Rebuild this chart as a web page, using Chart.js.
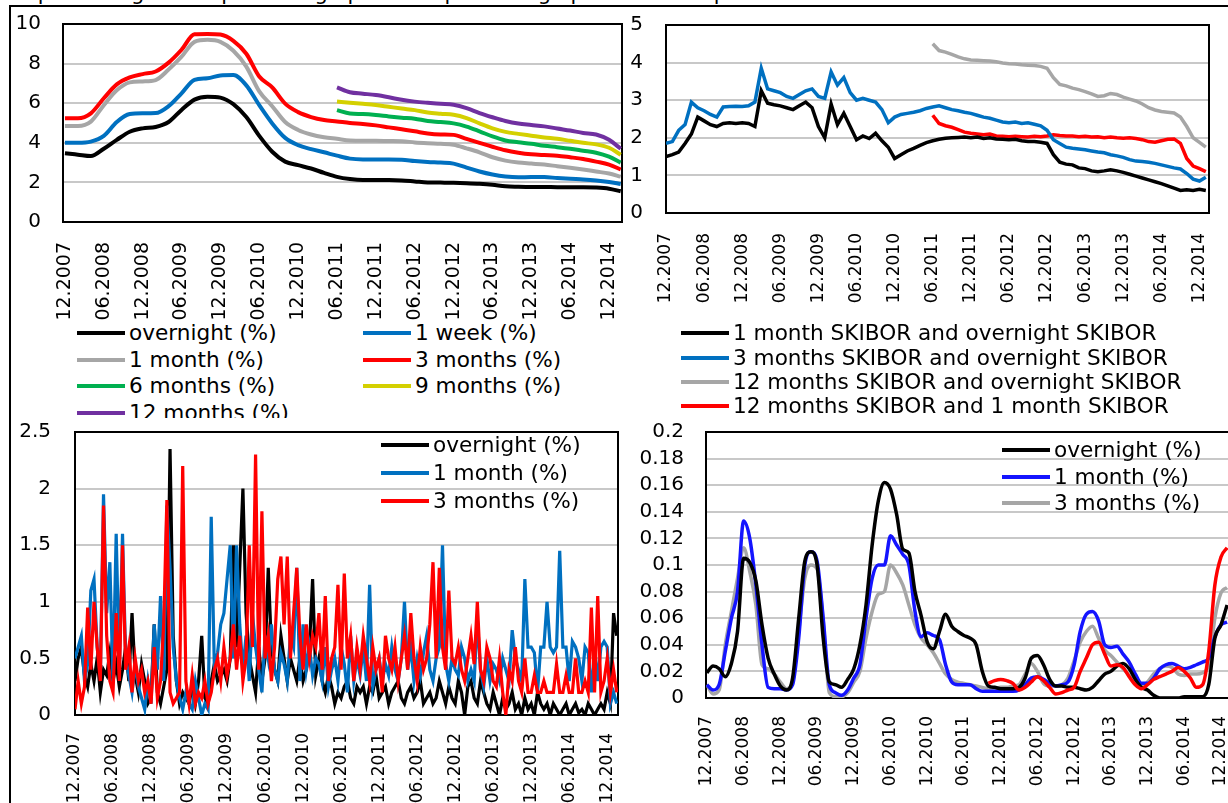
<!DOCTYPE html>
<html>
<head>
<meta charset="utf-8">
<script src="https://cdn.jsdelivr.net/npm/chart.js@4.4.1/dist/chart.umd.min.js"></script>
<style>
  body { margin: 0; width: 1228px; height: 803px; overflow: hidden; position: relative; background: #fff;
         font-family: "DejaVu Sans", Verdana, sans-serif; color: #000; }
  canvas { position: absolute; }
  .line { position: absolute; background: #000; z-index: 5; }
  .head { position: absolute; left: 12px; top: -17px; font-size: 21px; line-height: 21px; white-space: nowrap; }
  .legend { position: absolute; overflow: hidden; z-index: 3; }
  .item { position: absolute; font-size: 21.6px; line-height: 26px; white-space: nowrap; }
  .swatch { display: inline-block; width: 48px; height: 4px; vertical-align: middle; margin-right: 4px; position: relative; top: -1px; }
</style>
</head>
<body>
<div class="head">in percentages and percentage points in percentage points and in points</div>
<div class="line" style="left:9px;top:5px;width:1219px;height:2px"></div>
<div class="line" style="left:9px;top:5px;width:2px;height:798px"></div>

<canvas id="tl" width="620" height="312" style="left:10px;top:8px"></canvas>
<canvas id="tr" width="598" height="312" style="left:630px;top:8px"></canvas>
<canvas id="bl" width="609" height="383" style="left:11px;top:420px"></canvas>
<canvas id="br" width="620" height="383" style="left:622px;top:420px"></canvas>

<div class="legend" id="tlLeg" style="left:11px;top:320px;width:610px;height:98px"></div>
<div class="legend" id="trLeg" style="left:631px;top:318px;width:597px;height:102px"></div>
<div class="legend" id="blLeg" style="left:370px;top:428px;width:240px;height:90px"></div>
<div class="legend" id="brLeg" style="left:990px;top:433px;width:238px;height:90px"></div>

<script>
// gemeinsame Achsenbeschriftung (Monate ab 12.2007)
const tickMonths = [0, 6, 12, 18, 24, 30, 36, 42, 48, 54, 60, 66, 72, 78, 84];
const tickLabels = ["12.2007", "06.2008", "12.2008", "06.2009", "12.2009", "06.2010", "12.2010", "06.2011",
  "12.2011", "06.2012", "12.2012", "06.2013", "12.2013", "06.2014", "12.2014"];

const tlMonths = [0, 2, 4, 6, 8, 10, 12, 14, 16, 18, 20, 22, 24, 26, 28, 30, 32, 34, 36, 38, 40, 42,
  44, 46, 48, 50, 52, 54, 56, 58, 60, 62, 64, 66, 68, 70, 72, 74, 76, 78, 80, 82, 84, 85.8];
const tlLateMonths = [42, 44, 46, 48, 50, 52, 54, 56, 58, 60, 62, 64, 66, 68, 70, 72, 74, 76, 78, 80, 82, 84, 85.8];
const tlOvernight = [3.47, 3.4, 3.33, 3.7, 4.15, 4.56, 4.73, 4.8, 5.05, 5.66, 6.18, 6.33, 6.28, 5.95, 5.3, 4.35,
  3.55, 3.05, 2.87, 2.7, 2.48, 2.28, 2.17, 2.12, 2.12, 2.12, 2.1, 2.05, 2.0, 1.99, 1.98, 1.96, 1.93, 1.88,
  1.8, 1.78, 1.77, 1.77, 1.76, 1.76, 1.76, 1.74, 1.68, 1.55];
const tl1Week = [4.0, 4.0, 4.06, 4.35, 5.05, 5.45, 5.49, 5.5, 5.85, 6.5, 7.18, 7.26, 7.4, 7.42, 6.9, 5.9,
  4.98, 4.25, 3.88, 3.68, 3.52, 3.35, 3.2, 3.16, 3.16, 3.16, 3.15, 3.08, 3.03, 3.0, 2.95, 2.75, 2.55, 2.4,
  2.3, 2.26, 2.27, 2.27, 2.22, 2.18, 2.15, 2.1, 2.02, 1.92];
const tl1Month = [4.85, 4.85, 5.07, 5.9, 6.65, 7.05, 7.1, 7.17, 7.7, 8.35, 9.1, 9.2, 9.1, 8.65, 7.85, 6.6,
  5.85, 5.05, 4.65, 4.42, 4.28, 4.2, 4.12, 4.1, 4.1, 4.09, 4.08, 4.02, 3.98, 3.95, 3.9, 3.72, 3.52, 3.27,
  3.1, 3.0, 2.95, 2.9, 2.82, 2.74, 2.65, 2.55, 2.45, 2.29];
const tl3Months = [5.24, 5.24, 5.49, 6.25, 6.95, 7.3, 7.47, 7.6, 8.05, 8.7, 9.48, 9.5, 9.47, 9.15, 8.5, 7.35,
  6.8, 5.98, 5.55, 5.3, 5.15, 5.08, 5.0, 4.95, 4.88, 4.78, 4.68, 4.58, 4.47, 4.42, 4.4, 4.2, 4.0, 3.8,
  3.62, 3.5, 3.42, 3.38, 3.35, 3.27, 3.18, 3.05, 2.9, 2.65];
const tl6Months = [5.65, 5.48, 5.45, 5.4, 5.33, 5.27, 5.22, 5.1, 5.05, 4.98, 4.82, 4.58, 4.32, 4.12, 4.03,
  3.95, 3.85, 3.78, 3.7, 3.6, 3.5, 3.3, 3.0];
const tl9Months = [6.08, 6.02, 5.97, 5.91, 5.82, 5.73, 5.65, 5.53, 5.47, 5.42, 5.25, 4.98, 4.73, 4.55, 4.45,
  4.36, 4.27, 4.2, 4.1, 4.0, 3.92, 3.75, 3.4];
const tl12Months = [6.8, 6.55, 6.48, 6.41, 6.3, 6.17, 6.08, 6.02, 5.97, 5.92, 5.75, 5.5, 5.29, 5.1, 4.97,
  4.9, 4.83, 4.72, 4.62, 4.5, 4.42, 4.15, 3.7];

// oben rechts: Spreads (monatlich, ab 12.2007)
const trLateStart = 42;
const tr1mOn = [1.5, 1.55, 1.62, 1.85, 2.1, 2.55, 2.45, 2.35, 2.3, 2.38,
  2.4, 2.38, 2.4, 2.38, 2.3, 3.25, 2.92, 2.88, 2.85, 2.8,
  2.75, 2.85, 2.95, 2.8, 2.3, 2.0, 2.9, 2.35, 2.65, 2.3,
  1.95, 2.05, 1.98, 2.12, 1.92, 1.75, 1.45, 1.55, 1.65, 1.72,
  1.8, 1.87, 1.92, 1.96, 1.99, 2.0, 2.01, 2.02, 2.0, 2.02,
  1.98, 2.0, 1.97, 1.96, 1.95, 1.96, 1.92, 1.9, 1.9, 1.88,
  1.85, 1.55, 1.35, 1.3, 1.28, 1.2, 1.18, 1.12, 1.1, 1.12,
  1.15, 1.12, 1.08, 1.03, 0.98, 0.93, 0.88, 0.83, 0.78, 0.72,
  0.66, 0.6, 0.62, 0.6, 0.63, 0.6];
const tr3mOn = [1.85, 1.9, 2.2, 2.35, 2.95, 2.8, 2.72, 2.62, 2.55, 2.82,
  2.83, 2.84, 2.83, 2.85, 2.95, 3.85, 3.3, 3.25, 3.2, 3.1,
  3.05, 3.15, 3.25, 3.3, 3.1, 3.05, 3.75, 3.4, 3.6, 3.2,
  3.0, 3.05, 3.0, 2.95, 2.75, 2.4, 2.55, 2.62, 2.65, 2.68,
  2.72, 2.78, 2.82, 2.85, 2.8, 2.75, 2.72, 2.68, 2.65, 2.6,
  2.55, 2.52, 2.47, 2.42, 2.4, 2.42, 2.38, 2.4, 2.36, 2.32,
  2.2, 1.95, 1.85, 1.75, 1.72, 1.7, 1.68, 1.65, 1.62, 1.6,
  1.55, 1.52, 1.48, 1.42, 1.38, 1.37, 1.35, 1.32, 1.28, 1.24,
  1.2, 1.17, 1.05, 0.9, 0.85, 0.95];
const tr12mOn = [4.5, 4.32, 4.28, 4.22, 4.15, 4.1, 4.07, 4.06, 4.05, 4.04,
  4.02, 3.99, 3.97, 3.96, 3.94, 3.93, 3.92, 3.9, 3.85, 3.6,
  3.42, 3.38, 3.32, 3.28, 3.23, 3.17, 3.1, 3.12, 3.18, 3.15,
  3.08, 3.03, 2.98, 2.9, 2.8, 2.74, 2.7, 2.68, 2.66, 2.55,
  2.3, 2.0, 1.88, 1.75];
const tr12m1m = [2.6, 2.38, 2.32, 2.28, 2.22, 2.15, 2.12, 2.1, 2.08, 2.1,
  2.05, 2.04, 2.03, 2.04, 2.03, 2.02, 2.04, 2.03, 2.05, 2.08,
  2.06, 2.05, 2.05, 2.03, 2.04, 2.02, 2.03, 2.0, 2.02, 2.0,
  1.99, 2.0, 1.98, 1.95, 1.9, 1.88, 1.92, 1.96, 1.97, 1.85,
  1.45, 1.25, 1.18, 1.1];

const blOvernight = [0.3, 0.5, 0.6, 0.35, 0.25, 0.45, 0.3, 0.5, 0.2, 0.4, 0.35,
  0.55, 0.3, 0.45, 0.25, 0.4, 0.6, 0.3, 0.9, 0.35, 0.2,
  0.45, 0.3, 0.1, 0.15, 0.8, 0.2, 0.1, 0.25, 0.4, 2.35,
  0.7, 0.3, 0.1, 0.2, 0.15, 0.1, 0.25, 0.1, 0.3, 0.7,
  0.15, 0.1, 0.3, 0.45, 0.3, 0.35, 0.4, 0.3, 0.5, 1.5,
  0.6, 1.3, 2.0, 0.9, 0.5, 0.35, 0.2, 0.6, 0.3, 0.5,
  1.3, 0.6, 0.4, 0.3, 0.7, 0.5, 0.3, 0.5, 0.4, 0.3,
  0.5, 0.3, 0.4, 0.6, 1.2, 0.35, 0.5, 0.3, 0.2, 0.35,
  0.25, 0.1, 0.2, 0.15, 0.25, 0.3, 0.15, 0.1, 0.25, 0.2,
  0.25, 0.1, 0.25, 0.2, 0.35, 0.15, 0.2, 0.25, 0.1, 0.2,
  0.25, 0.3, 0.15, 0.1, 0.2, 0.25, 0.15, 0.2, 0.3, 0.1,
  0.15, 0.2, 0.1, 0.15, 0.3, 0.2, 0.1, 0.25, 0.15, 0.1,
  0.3, 0.2, 0.0, 0.25, 0.3, 0.15, 0.1, 0.3, 0.2, 0.1,
  0.05, 0.2, 0.1, 0.0, 0.15, 0.05, 0.1, 0.2, 0.05, 0.1,
  0.0, 0.15, 0.05, 0.1, 0.0, 0.2, 0.1, 0.05, 0.1, 0.0,
  0.1, 0.05, 0.0, 0.05, 0.1, 0.0, 0.05, 0.1, 0.02, 0.05,
  0.0, 0.1, 0.05, 0.0, 0.05, 0.1, 0.05, 0.2, 0.1, 0.9, 0.7];
const bl1Month = [0.5, 0.6, 0.7, 0.3, 0.45, 1.1, 1.2, 0.6, 0.35, 1.95, 0.9,
  1.35, 0.3, 1.6, 0.4, 1.6, 0.5, 0.35, 0.2, 0.45, 0.25,
  0.15, 0.05, 0.3, 0.1, 0.8, 0.4, 1.05, 0.3, 1.85, 1.3,
  0.6, 0.3, 0.15, 0.05, 0.2, 0.1, 0.05, 0.3, 0.15, 0.0,
  0.1, 0.05, 1.75, 0.4, 0.55, 0.8, 0.9, 1.2, 1.5, 0.5,
  1.5, 0.8, 0.4, 0.7, 0.3, 0.9, 0.6, 0.4, 0.2, 0.7,
  0.5, 0.8, 0.4, 0.3, 0.55, 0.45, 0.3, 0.7, 0.6, 1.3,
  0.3, 0.8, 0.4, 0.6, 0.35, 0.5, 0.45, 0.3, 0.6, 0.25,
  0.4, 0.5, 0.3, 0.6, 0.45, 0.2, 0.7, 0.3, 0.5, 0.35,
  0.6, 0.3, 1.15, 0.25, 0.4, 0.5, 0.3, 0.45, 0.35, 0.6,
  0.4, 0.3, 0.5, 1.0, 0.4, 0.6, 0.3, 0.5, 0.35, 0.55,
  0.7, 0.4, 0.3, 0.5, 0.6, 1.5, 0.45, 0.3, 0.5, 0.4,
  0.35, 0.6, 0.5, 0.3, 0.4, 0.3, 0.85, 0.4, 0.25, 0.5,
  0.3, 0.45, 0.4, 0.3, 0.5, 0.4, 0.3, 0.75, 0.5, 0.4,
  0.3, 1.2, 0.6, 0.6, 0.55, 0.2, 0.6, 0.6, 1.0, 0.6,
  0.55, 0.6, 1.45, 0.6, 0.6, 0.3, 0.65, 0.6, 0.5, 0.3,
  0.6, 0.55, 0.2, 0.6, 0.3, 0.6, 0.65, 0.6, 0.1, 0.2, 0.1];
const bl3Months = [0.05, 0.3, 0.1, 0.25, 0.95, 0.4, 1.0, 0.6, 0.3, 1.85, 0.7,
  0.3, 0.2, 0.9, 0.3, 1.5, 0.4, 0.6, 0.2, 0.5, 0.3,
  0.4, 0.2, 0.3, 0.1, 0.6, 0.15, 0.3, 0.8, 1.9, 0.2,
  0.1, 0.15, 0.2, 2.2, 0.3, 0.1, 0.35, 0.1, 0.2, 0.15,
  0.3, 0.1, 0.2, 0.4, 0.5, 0.3, 0.6, 0.35, 0.5, 0.8,
  0.4, 0.7, 0.3, 0.5, 1.5, 0.6, 2.3, 0.4, 1.8, 0.5,
  0.7, 0.3, 0.6, 1.2, 1.4, 0.8, 1.4, 0.5, 0.9, 1.3,
  0.7, 0.4, 0.8, 0.5, 0.7, 0.6, 0.9, 0.4, 1.05, 0.3,
  0.5, 0.6, 1.15, 0.4, 1.25, 0.5, 0.7, 0.3, 0.6, 0.4,
  0.7, 0.5, 0.3, 0.6, 0.4, 0.5, 0.2, 0.7, 0.5, 0.4,
  0.6, 0.3, 0.5, 0.7, 0.4, 0.9, 0.5, 0.3, 0.6, 0.4,
  0.5, 0.8, 1.35, 0.5, 1.3, 0.6, 0.4, 1.1, 0.5, 0.45,
  0.6, 0.4, 0.3, 0.5, 0.7, 0.45, 1.0, 0.4, 0.3, 0.6,
  0.5, 0.3, 0.25, 0.5, 0.2, 0.0, 0.4, 0.3, 0.6, 0.3,
  0.2, 0.5, 0.2, 0.2, 0.35, 0.2, 0.2, 0.3, 0.2, 0.2,
  0.2, 0.45, 0.2, 0.2, 0.35, 0.2, 0.2, 0.5, 0.2, 0.2,
  0.3, 0.2, 0.95, 0.2, 1.05, 0.2, 0.3, 0.5, 0.2, 0.4, 0.2];

// unten rechts: monatlich, rote Reihe ab 10.2011
const brRedStart = 46;
const brOvernight = [0.019, 0.024, 0.022, 0.016, 0.026, 0.05, 0.105, 0.102, 0.088, 0.055,
  0.03, 0.018, 0.009, 0.006, 0.015, 0.06, 0.103, 0.11, 0.1, 0.045,
  0.012, 0.01, 0.008, 0.014, 0.022, 0.04, 0.07, 0.115, 0.148, 0.162,
  0.157, 0.138, 0.112, 0.109, 0.08, 0.062, 0.042, 0.037, 0.05, 0.063,
  0.054, 0.05, 0.047, 0.045, 0.04, 0.02, 0.009, 0.008, 0.007, 0.007,
  0.007, 0.008, 0.015, 0.03, 0.032, 0.025, 0.014, 0.009, 0.009, 0.008,
  0.008, 0.007, 0.006, 0.008, 0.013, 0.018, 0.02, 0.024, 0.026, 0.022,
  0.014, 0.008, 0.006, 0.002, 0, 0, 0, 0, 0.001, 0.001,
  0.001, 0.001, 0.01, 0.045, 0.055, 0.07];
const br1Month = [0.01, 0.006, 0.01, 0.035, 0.06, 0.08, 0.133, 0.12, 0.085, 0.04,
  0.008, 0.007, 0.007, 0.006, 0.01, 0.045, 0.1, 0.11, 0.103, 0.06,
  0.01, 0.004, 0.002, 0.006, 0.015, 0.025, 0.06, 0.09, 0.1, 0.1,
  0.122, 0.115, 0.108, 0.1, 0.065, 0.046, 0.049, 0.047, 0.044, 0.025,
  0.012, 0.01, 0.01, 0.01, 0.007, 0.005, 0.005, 0.005, 0.005, 0.005,
  0.005, 0.006, 0.01, 0.015, 0.016, 0.014, 0.011, 0.009, 0.01, 0.012,
  0.025, 0.05, 0.063, 0.065, 0.058, 0.04, 0.038, 0.039, 0.033, 0.027,
  0.018, 0.011, 0.011, 0.015, 0.022, 0.025, 0.026, 0.024, 0.022, 0.023,
  0.025, 0.027, 0.03, 0.046, 0.055, 0.057];
const br3Months = [0.01, 0.003, 0.006, 0.04, 0.065, 0.09, 0.113, 0.095, 0.07, 0.025,
  0.022, 0.018, 0.012, 0.007, 0.012, 0.05, 0.09, 0.1, 0.097, 0.058,
  0.004, 0.001, 0.001, 0.004, 0.012, 0.02, 0.045, 0.065, 0.078, 0.08,
  0.1, 0.094, 0.085, 0.07, 0.055, 0.045, 0.04, 0.034, 0.026, 0.018,
  0.014, 0.012, 0.011, 0.01, 0.009, 0.008, 0.007, 0.007, 0.008, 0.008,
  0.009, 0.01, 0.018, 0.026, 0.02, 0.011, 0.009, 0.009, 0.01, 0.015,
  0.028, 0.042, 0.05, 0.054, 0.045, 0.036, 0.032, 0.027, 0.022, 0.017,
  0.012, 0.008, 0.012, 0.018, 0.022, 0.024, 0.023, 0.018, 0.017, 0.018,
  0.018, 0.019, 0.025, 0.06, 0.079, 0.083];
const brRed = [0.011, 0.013, 0.014, 0.013, 0.011, 0.006, 0.008, 0.012, 0.016, 0.013,
  0.008, 0.003, 0.004, 0.006, 0.008, 0.02, 0.03, 0.04, 0.042, 0.033,
  0.024, 0.025, 0.023, 0.016, 0.01, 0.007, 0.01, 0.014, 0.016, 0.018,
  0.02, 0.023, 0.02, 0.015, 0.008, 0.01, 0.035, 0.085, 0.106, 0.113];

const FONT = "'DejaVu Sans', Verdana, sans-serif";
const BLACK = "#000000", BLUE = "#0070c0", GREY = "#a6a6a6", RED = "#ff0000";
const GREEN = "#00b050", YELLOW = "#d4d000", PURPLE = "#7030a0", PURE_BLUE = "#1414ff";

// Rahmen um die Zeichenfläche
const plotBox = {
  id: "plotBox",
  beforeDatasetsDraw(chart) {
    const a = chart.chartArea, c = chart.ctx;
    c.save();
    c.strokeStyle = "#000";
    c.lineWidth = 2;
    c.strokeRect(a.left, a.top, a.right - a.left, a.bottom - a.top);
    c.restore();
  }
};

function pts(xs, ys) {
  return ys.map((y, i) => ({ x: xs[i], y: y }));
}
function monthly(start, ys) {
  return ys.map((y, i) => ({ x: start + i, y: y }));
}
function halfMonthly(ys) {
  return ys.map((y, i) => ({ x: i / 2, y: y }));
}

function series(data, color, width, order, smooth) {
  return {
    data: data, borderColor: color, borderWidth: width, order: order,
    pointRadius: 0, fill: false,
    tension: smooth ? 0.4 : 0,
    cubicInterpolationMode: smooth ? "monotone" : "default"
  };
}

function makeChart(id, g, datasets) {
  return new Chart(document.getElementById(id), {
    type: "line",
    data: { datasets: datasets },
    options: {
      responsive: false,
      animation: false,
      layout: { padding: { left: 0, top: g.top, right: g.right, bottom: 0 } },
      plugins: { legend: { display: false }, tooltip: { enabled: false } },
      scales: {
        x: {
          type: "linear", min: g.xmin, max: g.xmax,
          grid: { display: false }, border: { display: false },
          afterBuildTicks(s) { s.ticks = tickMonths.map((v) => ({ value: v })); },
          afterFit(s) { s.height = g.xh; s.paddingLeft = 0; s.paddingRight = 0; },
          ticks: {
            autoSkip: false, maxRotation: 90, minRotation: 90, padding: g.xpad,
            color: "#000", font: { family: FONT, size: g.xfs },
            callback: (v, i) => tickLabels[i]
          }
        },
        y: {
          min: 0, max: g.ymax,
          grid: { color: "#c8c8c8", lineWidth: 2, drawTicks: false },
          border: { display: false },
          afterFit(s) { s.width = g.yw; s.paddingTop = 0; s.paddingBottom = 0; },
          ticks: {
            stepSize: g.step, padding: g.ypad, color: "#000", autoSkip: false,
            font: { family: FONT, size: 20 },
            callback: (v) => String(+v.toFixed(2))
          }
        }
      }
    },
    plugins: [plotBox]
  });
}

makeChart("tl", { top: 16, right: 8, yw: 53, ypad: 22, xh: 98, xpad: 12, xfs: 19, xmin: -0.3, xmax: 86, ymax: 10, step: 2 }, [
  series(pts(tlMonths, tlOvernight), BLACK, 4, 0, true),
  series(pts(tlMonths, tl1Week), BLUE, 4, 1, true),
  series(pts(tlMonths, tl1Month), GREY, 4, 2, true),
  series(pts(tlMonths, tl3Months), RED, 4, 3, true),
  series(pts(tlLateMonths, tl6Months), GREEN, 4, 4, true),
  series(pts(tlLateMonths, tl9Months), YELLOW, 4, 5, true),
  series(pts(tlLateMonths, tl12Months), PURPLE, 4, 6, true)
]);

makeChart("tr", { top: 17, right: 19, yw: 36, ypad: 23, xh: 107, xpad: 12, xfs: 17, xmin: 0, xmax: 85.5, ymax: 5, step: 1 }, [
  series(monthly(0, tr1mOn), BLACK, 3.5, 0, false),
  series(monthly(0, tr3mOn), BLUE, 3.5, 1, false),
  series(monthly(trLateStart, tr12mOn), GREY, 3.5, 2, false),
  series(monthly(trLateStart, tr12m1m), RED, 3.5, 3, false)
]);

makeChart("bl", { top: 12, right: 2, yw: 64, ypad: 24, xh: 88, xpad: 10, xfs: 17, xmin: 0, xmax: 85.7, ymax: 2.5, step: 0.5 }, [
  series(halfMonthly(blOvernight), BLACK, 3.2, 2, false),
  series(halfMonthly(bl1Month), BLUE, 3.2, 1, false),
  series(halfMonthly(bl3Months), RED, 3.2, 0, false)
]);

makeChart("br", { top: 12, right: 10, yw: 84, ypad: 22, xh: 105, xpad: 10, xfs: 17, xmin: -0.15, xmax: 85.8, ymax: 0.2, step: 0.02 }, [
  series(monthly(0, brOvernight), BLACK, 3.5, 1, true),
  series(monthly(0, br1Month), PURE_BLUE, 3.5, 2, true),
  series(monthly(0, br3Months), GREY, 3.5, 3, true),
  series(monthly(brRedStart, brRed), RED, 3.5, 0, true)
]);

// Legenden als Text neben Linienmustern
function legend(id, items) {
  const box = document.getElementById(id);
  items.forEach((it) => {
    const d = document.createElement("div");
    d.className = "item";
    d.style.left = it.x + "px";
    d.style.top = it.y + "px";
    const s = document.createElement("span");
    s.className = "swatch";
    s.style.background = it.color;
    d.appendChild(s);
    d.appendChild(document.createTextNode(it.text));
    box.appendChild(d);
  });
}

legend("tlLeg", [
  { text: "overnight (%)", color: BLACK, x: 66, y: 0 },
  { text: "1 week (%)", color: BLUE, x: 352, y: 0 },
  { text: "1 month (%)", color: GREY, x: 66, y: 27 },
  { text: "3 months (%)", color: RED, x: 352, y: 27 },
  { text: "6 months (%)", color: GREEN, x: 66, y: 53 },
  { text: "9 months (%)", color: YELLOW, x: 352, y: 53 },
  { text: "12 months (%)", color: PURPLE, x: 66, y: 80 }
]);
legend("trLeg", [
  { text: "1 month SKIBOR and overnight SKIBOR", color: BLACK, x: 50, y: 2 },
  { text: "3 months SKIBOR and overnight SKIBOR", color: BLUE, x: 50, y: 27 },
  { text: "12 months SKIBOR and overnight SKIBOR", color: GREY, x: 50, y: 51 },
  { text: "12 months SKIBOR and 1 month SKIBOR", color: RED, x: 50, y: 75 }
]);
legend("blLeg", [
  { text: "overnight (%)", color: BLACK, x: 11, y: 4 },
  { text: "1 month (%)", color: BLUE, x: 11, y: 32 },
  { text: "3 months (%)", color: RED, x: 11, y: 60 }
]);
legend("brLeg", [
  { text: "overnight (%)", color: BLACK, x: 12, y: 4 },
  { text: "1 month (%)", color: PURE_BLUE, x: 12, y: 31 },
  { text: "3 months (%)", color: GREY, x: 12, y: 57 }
]);
</script>
</body>
</html>
